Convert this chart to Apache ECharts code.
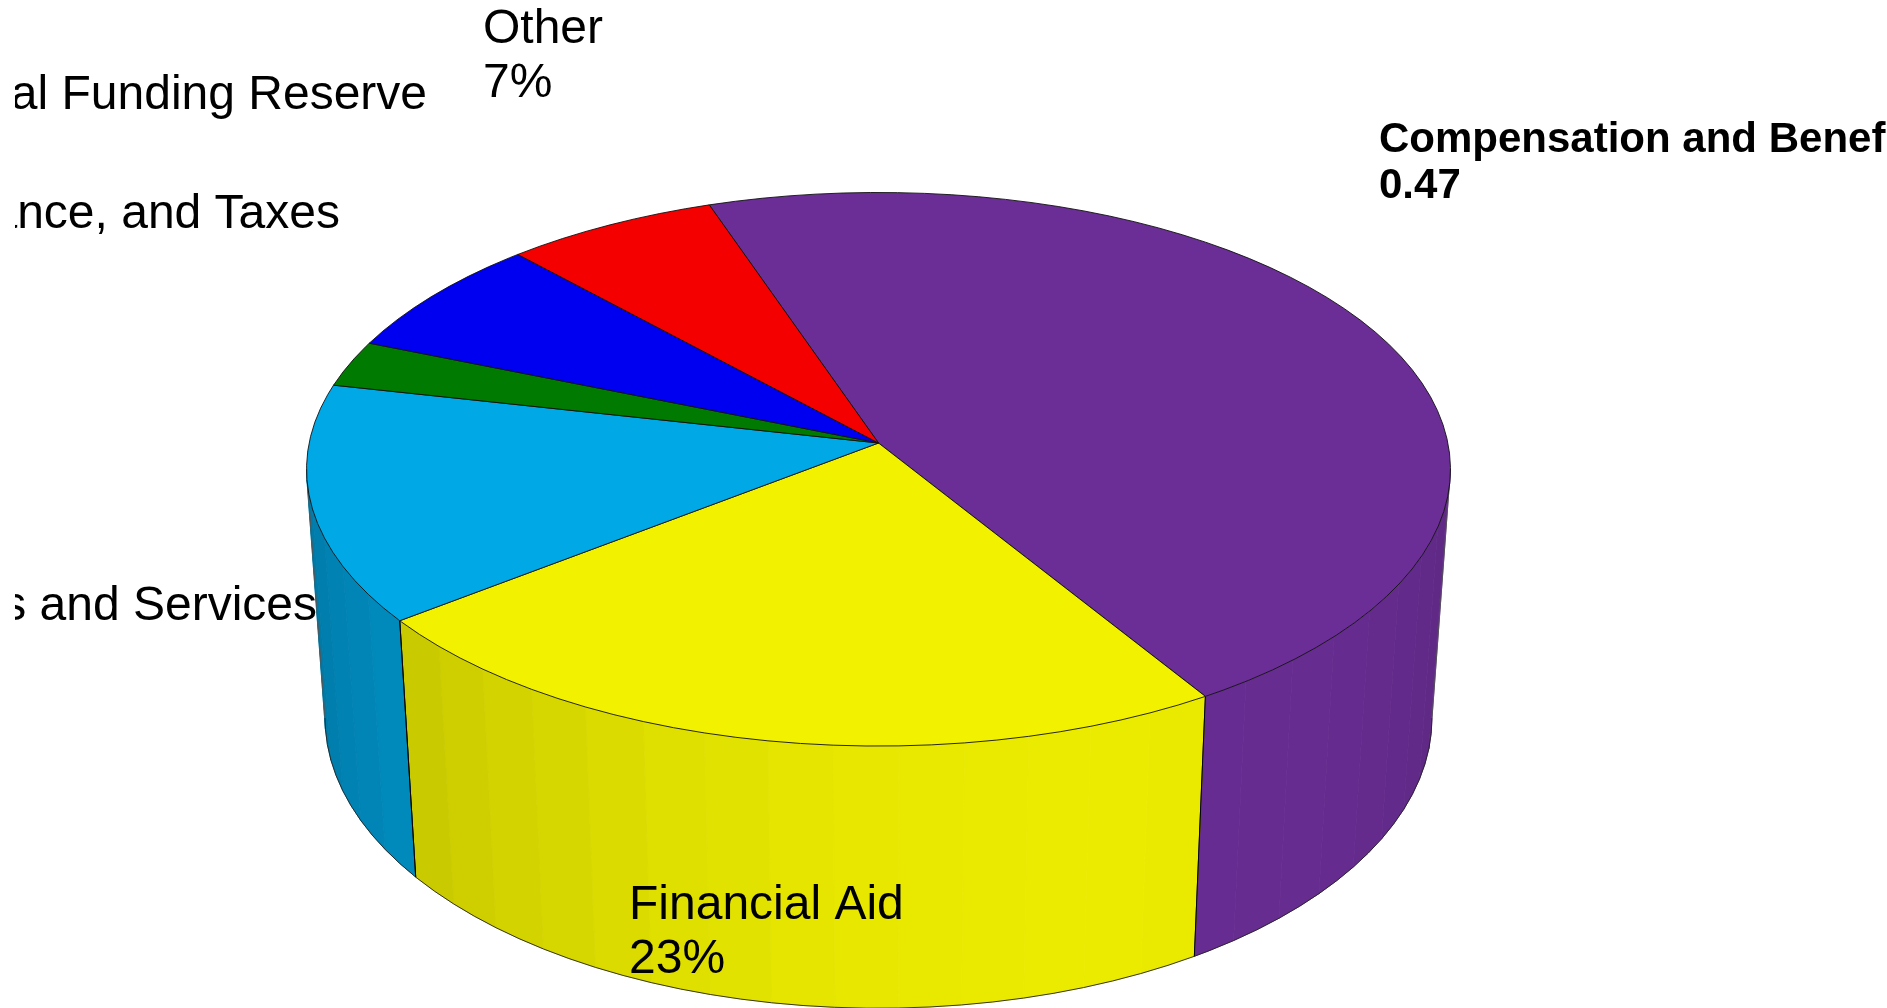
<!DOCTYPE html>
<html>
<head>
<meta charset="utf-8">
<style>
html,body{margin:0;padding:0;background:#fff;overflow:hidden}
#chart{position:absolute;left:15px;top:0;width:1872px;height:1008px}
</style>
<script src="https://cdn.jsdelivr.net/npm/echarts@6/dist/echarts.min.js"></script>
</head>
<body>
<div id="chart"></div>
<script>
// ---- data ----
const categories = ['Compensation and Benefits','Financial Aid','Supplies and Services','Occupancy, Insurance, and Taxes','Capital Funding Reserve','Other'];
const shares = [46.4,23.4,13.9,2.7,7.0,6.6];
const valueLabels = ['0.47','23%','14%','3%','7%','7%'];
const topColors = ['#6b2e96','#f2f200','#00a8e6','#007a00','#0000f0','#f50000'];

// ---- layout ----
const pageLeft = 15;                 // chart canvas starts here, labels are cut by its edges
const startAngle = -108.9;           // clockwise from east, on the disc
const topRim = {cx:878.5,cy:443,a:569.4,b:274.3,p:0.0949};
const bottomRim = {cx:878.5,cy:690.7,a:551.1,b:288,p:0.093};
const wallFrom = 5.4, wallTo = 174.6, step = 3, band = 6;
const labelFont = '48px "Liberation Sans"', boldFont = 'bold 42px "Liberation Sans"';
const labelBoxes = [ // left or right edge, and top of first line
  {left:1379,top:117,bold:true},
  {left:629,top:879},
  {right:317,top:580},
  {right:340,top:188},
  {right:427,top:69},
  {left:483,top:3}
];
const measure = document.createElement('canvas').getContext('2d');

function project(rim, deg){
  const t = deg*Math.PI/180, c = Math.cos(t), s = Math.sin(t), w = 1 - rim.p*s;
  return [rim.cx + rim.a*c/w - pageLeft, rim.cy + rim.b*s/w];
}
function shade(hex, deg){
  const f = 0.77 + 0.2*Math.cos((deg-68)*Math.PI/180);
  const n = parseInt(hex.slice(1),16);
  return 'rgb('+[(n>>16)&255,(n>>8)&255,n&255].map(v=>Math.round(v*f)).join(',')+')';
}
function arc(rim, a, b){
  const pts = [];
  for(let d=a; d<b; d+=step) pts.push(project(rim,d));
  pts.push(project(rim,b));
  return pts;
}
const total = shares.reduce((x,y)=>x+y,0);

function renderSlice(params, api){
  const i = params.dataIndex;
  let before = 0;
  for(let k=0;k<i;k++) before += shares[k];
  const a0 = startAngle + before/total*360;
  const a1 = a0 + api.value(0)/total*360;
  const color = topColors[i];
  const children = [];
  // side wall: only the part that faces the viewer
  const w0 = Math.max(a0, wallFrom), w1 = Math.min(a1, wallTo);
  if(w1 > w0){
    for(let d=w0; d<w1; d+=band){
      const e = Math.min(d+band,w1);
      const fill = shade(color,(d+e)/2);
      children.push({type:'polygon',z2:1,
        shape:{points:arc(topRim,d,e).concat(arc(bottomRim,d,e).reverse())},
        style:{fill:fill,stroke:fill,lineWidth:0.8}});
    }
    children.push({type:'polyline',z2:2,shape:{points:arc(bottomRim,w0,w1)},style:{fill:null,stroke:'#222',lineWidth:0.9}});
    [w0,w1].forEach(d=>{
      children.push({type:'polyline',z2:2,shape:{points:[project(topRim,d),project(bottomRim,d)]},
        style:{fill:null,stroke:(d===wallFrom||d===wallTo)?'#555':'#000',lineWidth:0.9}});
    });
  }
  // top face
  const apex = [topRim.cx-pageLeft, topRim.cy];
  children.push({type:'polygon',z2:3,shape:{points:[apex].concat(arc(topRim,a0,a1))},
    style:{fill:color,stroke:'#111',lineWidth:0.9,lineJoin:'round'}});
  // label
  const box = labelBoxes[i];
  const font = box.bold ? boldFont : labelFont;
  measure.font = font;
  const line1 = api.value(1), line2 = valueLabels[i];
  const x = box.left !== undefined ? box.left : box.right - measure.measureText(line1).width;
  children.push({type:'text',z2:10,x:x-pageLeft,y:box.top,
    style:{text:line1+'\n'+line2,font:font,fill:'#000',textAlign:'left',textVerticalAlign:'top',
      lineHeight:box.bold?46:54}});
  return {type:'group',children:children};
}

const chart = echarts.init(document.getElementById('chart'),null,{renderer:'canvas'});
chart.setOption({
  animation:false,
  backgroundColor:'#fff',
  series:[{
    type:'custom',
    coordinateSystem:'none',
    clip:false,
    renderItem:renderSlice,
    data:shares.map((v,i)=>[v,categories[i]])
  }]
});
</script>
</body>
</html>
